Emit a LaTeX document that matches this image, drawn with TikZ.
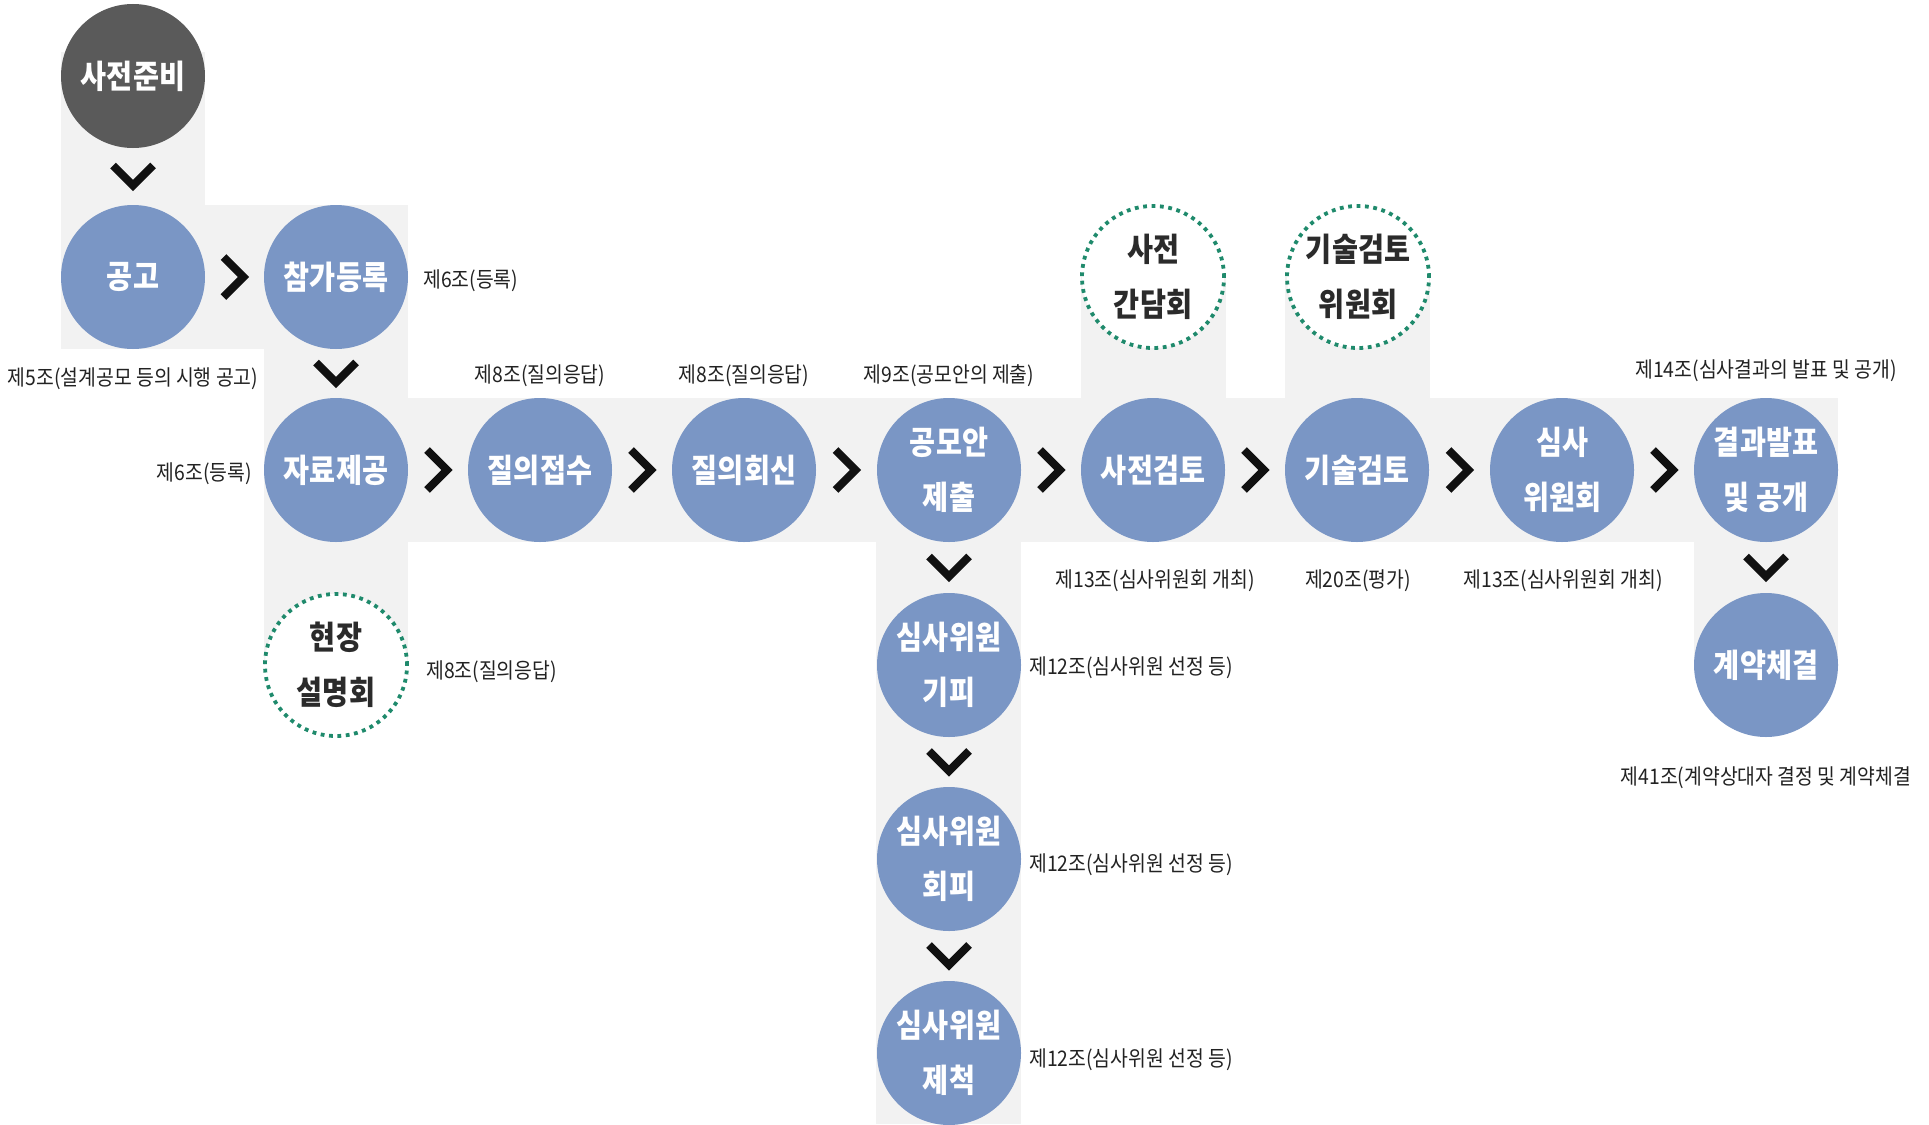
\documentclass[tikz,border=0pt]{standalone}
\usepackage{fontspec}
\newfontfamily\krfont[FakeStretch=0.9]{Noto Sans CJK KR}
\newfontfamily\krbig[FakeStretch=0.87]{Noto Sans CJK KR}
\usetikzlibrary{calc}
\definecolor{bandgrey}{HTML}{F2F2F2}
\definecolor{nodeblue}{HTML}{7A96C5}
\definecolor{darkcirc}{HTML}{5A5A5A}
\definecolor{dotgreen}{HTML}{1F8A6C}
\definecolor{labeltext}{HTML}{222222}
\definecolor{extratext}{HTML}{2B2B2B}
\definecolor{chevcol}{HTML}{111111}
\tikzset{
  circ/.style={circle, minimum size=144pt, inner sep=0pt, align=center},
  proc/.style={circ, fill=nodeblue, text=white, font=\krbig\bfseries\fontsize{32.5}{55}\selectfont},
  startc/.style={proc, fill=darkcirc},
  extra/.style={circ, minimum size=142pt, fill=white, draw=dotgreen, line width=3.8pt,
    dash pattern=on 3.8pt off 4.6pt, text=extratext, font=\krbig\bfseries\fontsize{32.5}{55}\selectfont},
  note/.style={font=\krfont\fontsize{21.5}{25}\selectfont, text=labeltext, inner sep=0pt, yshift=-2.5pt},
  chev/.style={draw=chevcol, line width=8pt, line cap=butt, line join=miter},
  band/.style={fill=bandgrey},
}
\newcommand\chevright[2]{%
  \path ($(#1.east)!0.5!(#2.west)$) coordinate (cv-#1-#2);
  \draw[chev] ($(cv-#1-#2)+(-11,-20)$) -- ++(20,20) -- ++(-20,20);}
\newcommand\chevdown[2]{%
  \path ($(#1.south)!0.5!(#2.north)$) coordinate (cv-#1-#2);
  \draw[chev] ($(cv-#1-#2)+(-20,-11)$) -- ++(20,20) -- ++(20,-20);}
\begin{document}
\begin{tikzpicture}[x=1pt,y=-1pt]
\useasboundingbox (0,0) rectangle (1929,1124);
\fill[white] (0,0) rectangle (1929,1124);
% grey bands
\fill[band] (61,52) rectangle (205,349);
\fill[band] (61,205) rectangle (408,349);
\fill[band] (264,205) rectangle (408,665);
\fill[band] (264,398) rectangle (1838,542);
\fill[band] (1081,277) rectangle (1226,398);
\fill[band] (1285,277) rectangle (1430,398);
\fill[band] (876,542) rectangle (1021,1124);
\fill[band] (1694,542) rectangle (1838,665);
% process circles
\node[startc] (prep) at (133,76) {사전준비};
\node[proc] (gonggo) at (133,277) {공고};
\node[proc] (reg) at (336,277) {참가등록};
\node[proc] (data) at (336,470) {자료제공};
\node[proc] (qrecv) at (540,470) {질의접수};
\node[proc] (qans) at (744,470) {질의회신};
\node[proc] (submit) at (949,470) {공모안\\제출};
\node[proc] (prerev) at (1153,470) {사전검토};
\node[proc] (techrev) at (1357,470) {기술검토};
\node[proc] (jury) at (1562,470) {심사\\위원회};
\node[proc] (result) at (1766,470) {결과발표\\및 공개};
\node[proc] (contract) at (1766,665) {계약체결};
\node[proc] (avoid1) at (949,665) {심사위원\\기피};
\node[proc] (avoid2) at (949,859) {심사위원\\회피};
\node[proc] (exclude) at (949,1053) {심사위원\\제척};
% dotted extra circles
\node[extra] (site) at (336,665) {현장\\설명회};
\node[extra] (meet) at (1153,277) {사전\\간담회};
\node[extra] (techcom) at (1358,277) {기술검토\\위원회};
% chevrons
\chevdown{prep}{gonggo}
\chevright{gonggo}{reg}
\chevdown{reg}{data}
\chevright{data}{qrecv}
\chevright{qrecv}{qans}
\chevright{qans}{submit}
\chevright{submit}{prerev}
\chevright{prerev}{techrev}
\chevright{techrev}{jury}
\chevright{jury}{result}
\chevdown{result}{contract}
\chevdown{submit}{avoid1}
\chevdown{avoid1}{avoid2}
\chevdown{avoid2}{exclude}
% article notes
\node[note, anchor=west] (n-reg) at (423,278) {제6조(등록)};
\node[note] (n-gonggo) at (133,376) {제5조(설계공모 등의 시행 공고)};
\node[note, anchor=east] (n-data) at (252,471) {제6조(등록)};
\node[note] (n-qrecv) at (540,373) {제8조(질의응답)};
\node[note] (n-qans) at (744,373) {제8조(질의응답)};
\node[note] (n-submit) at (949,373) {제9조(공모안의 제출)};
\node[note] (n-result) at (1766,368) {제14조(심사결과의 발표 및 공개)};
\node[note] (n-prerev) at (1155,578) {제13조(심사위원회 개최)};
\node[note] (n-techrev) at (1358,578) {제20조(평가)};
\node[note] (n-jury) at (1563,578) {제13조(심사위원회 개최)};
\node[note, anchor=west] (n-site) at (426,669) {제8조(질의응답)};
\node[note, anchor=west] (n-avoid1) at (1029,665) {제12조(심사위원 선정 등)};
\node[note, anchor=west] (n-avoid2) at (1029,862) {제12조(심사위원 선정 등)};
\node[note, anchor=west] (n-exclude) at (1029,1057) {제12조(심사위원 선정 등)};
\node[note] (n-contract) at (1766,775) {제41조(계약상대자 결정 및 계약체결};
\end{tikzpicture}
\end{document}
